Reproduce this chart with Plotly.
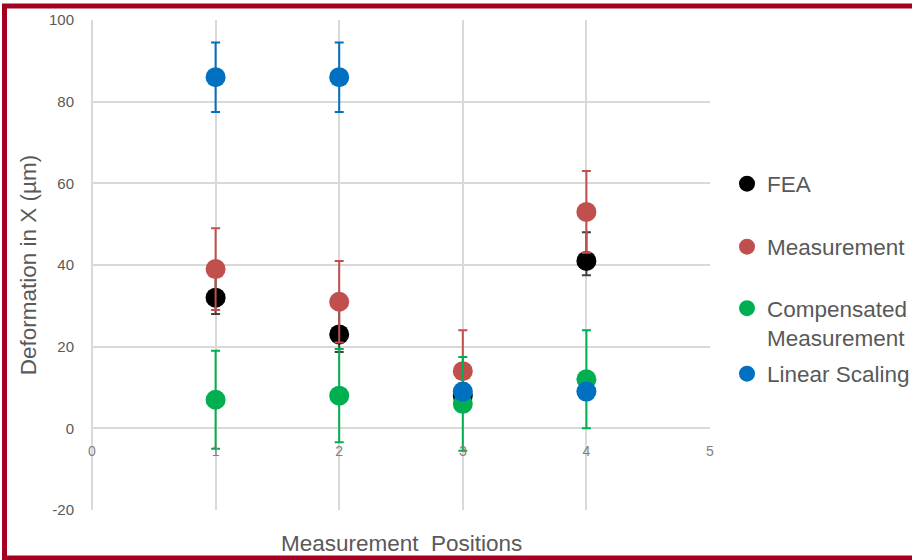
import plotly.graph_objects as go

positions = [1, 2, 3, 4]
fea = [32, 23, 8, 41]
fea_err_plus = [7, 7, 3, 7]
fea_err_minus = [4, 4.3, 3, 3.5]
measurement = [39, 31, 14, 53]
measurement_err = [10, 10, 10, 10]
compensated = [7, 8, 6, 12]
compensated_err = [12, 11.4, 11.5, 12]
linear = [86, 86, 9, 9]
linear_err = [8.5, 8.5, 1, 1]

x_ticks = [0, 1, 2, 3, 4, 5]
y_ticks = [-20, 0, 20, 40, 60, 80, 100]
y_tick_text = ["-20", "0", "20", "40", "60", "80", "100"]

W, H = 912, 560
L, R, T, B = 92, 202, 20, 50
PW, PH = W - L - R, H - T - B

def px_x(p):
    return (p - L) / PW

def px_y(p):
    return (H - B - p) / PH

series = [
    ("FEA", fea, fea_err_plus, fea_err_minus, "#000000", "#404040", "legend", 184),
    ("Measurement", measurement, measurement_err, measurement_err, "#C0504D", "#C0504D", "legend2", 247),
    ("Compensated<br>Measurement", compensated, compensated_err, compensated_err, "#00B050", "#00B050", "legend3", 323),
    ("Linear Scaling", linear, linear_err, linear_err, "#0070C0", "#0070C0", "legend4", 374),
]

FONT = "Liberation Sans, Arial, sans-serif"

fig = go.Figure()
legend_layouts = {}
for name, vals, ep, em, col, ecol, lg, ly in series:
    fig.add_trace(go.Scatter(
        x=positions, y=vals, mode="markers", name=name,
        marker=dict(size=20, color=col),
        error_y=dict(type="data", symmetric=False, array=ep, arrayminus=em,
                     color=ecol, thickness=2, width=4.5),
        legend=lg,
    ))
    legend_layouts[lg] = dict(
        x=px_x(727), xanchor="left", y=px_y(ly), yanchor="middle",
        bgcolor="rgba(0,0,0,0)", borderwidth=0, valign="top",
        font=dict(family=FONT, size=22.5, color="#595959"),
    )

fig.update_layout(
    width=W, height=H,
    margin=dict(l=L, r=R, t=T, b=B, autoexpand=False),
    paper_bgcolor="white", plot_bgcolor="white",
    showlegend=True,
    **legend_layouts,
    xaxis=dict(
        range=[0, 5], tickvals=x_ticks, ticktext=[str(v) for v in x_ticks],
        showgrid=True, gridcolor="#D9D9D9", gridwidth=1.5,
        zeroline=True, zerolinecolor="#D9D9D9", zerolinewidth=1.5,
        showline=False, ticks="",
        anchor="free", position=20 / 120,
        ticklabelstandoff=13,
        tickfont=dict(family=FONT, size=14, color="#7F7F7F"),
        fixedrange=True,
    ),
    yaxis=dict(
        range=[-20, 100], tickvals=y_ticks, ticktext=y_tick_text,
        showgrid=True, gridcolor="#D9D9D9", gridwidth=1.5,
        zeroline=True, zerolinecolor="#D9D9D9", zerolinewidth=1.5,
        showline=False, ticks="",
        ticklabelstandoff=17,
        tickfont=dict(family=FONT, size=15, color="#595959"),
        title=dict(text="Deformation in X (µm)", standoff=6,
                   font=dict(family=FONT, size=22.5, color="#595959")),
        fixedrange=True,
    ),
    annotations=[dict(
        text="Measurement\u00a0 Positions", xref="paper", yref="paper",
        x=0.5, y=px_y(543), xanchor="center", yanchor="middle", showarrow=False,
        font=dict(family=FONT, size=22.5, color="#595959"),
    )],
    shapes=[dict(
        type="rect", xref="paper", yref="paper",
        x0=px_x(4.5), x1=px_x(930), y0=px_y(558), y1=px_y(6),
        line=dict(color="#A50021", width=5), fillcolor="rgba(0,0,0,0)", layer="above",
    )],
)

fig.write_html("out.html")
